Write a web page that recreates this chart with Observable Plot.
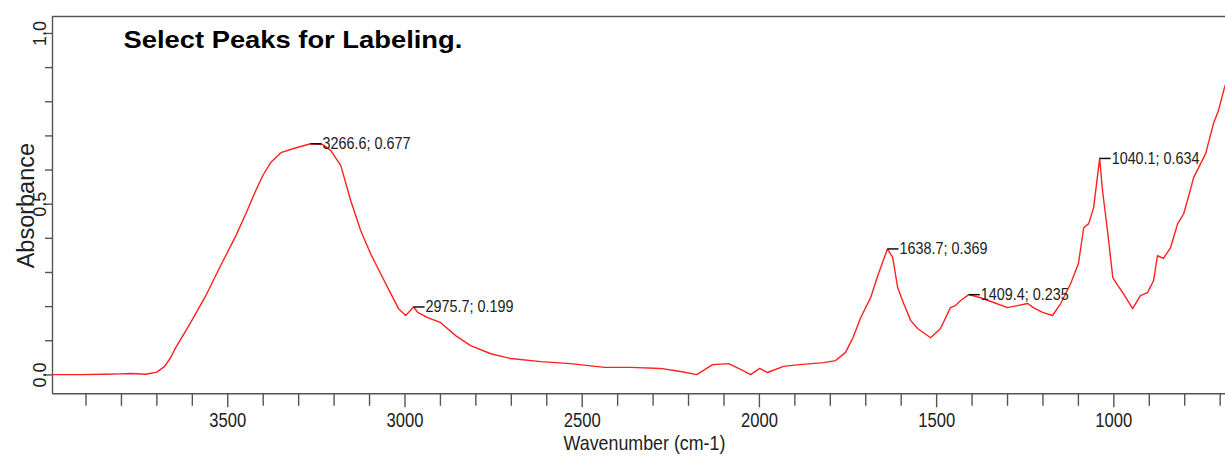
<!DOCTYPE html>
<html>
<head>
<meta charset="utf-8">
<script src="https://cdn.jsdelivr.net/npm/d3@7"></script>
<script src="https://cdn.jsdelivr.net/npm/@observablehq/plot@0.6"></script>
<style>
  html, body { margin: 0; padding: 0; background: #fff; }
  #chart { width: 1225px; height: 460px; overflow: hidden; }
</style>
</head>
<body>
<div id="chart"></div>
<script>
// ---- data ----
const wavenumber = [3994, 3915, 3850, 3802, 3774, 3731, 3700, 3678, 3661, 3647,
  3618, 3590, 3562, 3534, 3506, 3477, 3449, 3421, 3401, 3379,
  3350, 3314, 3266.6, 3232, 3209, 3181, 3153, 3125, 3097, 3069,
  3040, 3018, 2998, 2975.7, 2964, 2936, 2899, 2857, 2815, 2758,
  2702, 2617, 2533, 2437, 2363, 2279, 2222, 2177, 2132, 2087,
  2053, 2025, 1999, 1977, 1932, 1887, 1819, 1785, 1757, 1737,
  1714, 1686, 1664, 1638.7, 1624, 1610, 1593, 1573, 1554, 1517,
  1489, 1461, 1447, 1432, 1409.4, 1376, 1339, 1300, 1272, 1243,
  1227, 1201, 1173, 1150, 1122, 1100, 1085, 1071, 1057, 1040.1,
  1032, 1018, 1003, 989, 973, 947, 925, 905, 888, 877,
  860, 840, 820, 803, 787, 775, 758, 741, 719, 705,
  688, 685];
const absorbance = [0.001, 0.001, 0.002, 0.003, 0.004, 0.002, 0.008, 0.025, 0.051, 0.080,
  0.130, 0.180, 0.232, 0.291, 0.349, 0.408, 0.472, 0.540, 0.584, 0.622,
  0.651, 0.663, 0.677, 0.675, 0.657, 0.613, 0.510, 0.423, 0.355, 0.297,
  0.238, 0.194, 0.174, 0.199, 0.183, 0.168, 0.153, 0.115, 0.086, 0.062,
  0.048, 0.039, 0.033, 0.022, 0.022, 0.019, 0.010, 0.001, 0.030, 0.033,
  0.016, 0.001, 0.019, 0.007, 0.025, 0.030, 0.036, 0.042, 0.066, 0.107,
  0.168, 0.227, 0.297, 0.369, 0.344, 0.256, 0.209, 0.159, 0.136, 0.109,
  0.136, 0.197, 0.203, 0.218, 0.235, 0.226, 0.212, 0.197, 0.203, 0.209,
  0.197, 0.183, 0.174, 0.209, 0.267, 0.326, 0.431, 0.443, 0.490, 0.634,
  0.540, 0.423, 0.285, 0.262, 0.238, 0.194, 0.232, 0.241, 0.276, 0.349,
  0.341, 0.373, 0.443, 0.472, 0.531, 0.578, 0.613, 0.648, 0.736, 0.774,
  0.841, 0.850];

const peakWavenumber = [3266.6, 2975.7, 1638.7, 1409.4, 1040.1];
const peakAbsorbance = [0.677, 0.199, 0.369, 0.235, 0.634];
const peakLabels = ["3266.6; 0.677", "2975.7; 0.199", "1638.7; 0.369", "1409.4; 0.235", "1040.1; 0.634"];

const xMajorTicks = [3500, 3000, 2500, 2000, 1500, 1000];
const xMinorTicks = [3900, 3800, 3700, 3600, 3400, 3300, 3200, 3100, 2900, 2800, 2700, 2600,
  2400, 2300, 2200, 2100, 1900, 1800, 1700, 1600, 1400, 1300, 1200, 1100, 900, 800, 700];
const yMajorTicks = [0.0, 0.5, 1.0];
const yMinorTicks = [0.1, 0.2, 0.3, 0.4, 0.6, 0.7, 0.8, 0.9];

const titleText = "Select Peaks for Labeling.";
const xLabel = "Wavenumber (cm-1)";
const yLabel = "Absorbance";

const xDomain = [3994.5, 685];
const yDomain = [-0.0553, 1.0497];

const spectrum = wavenumber.map((w, i) => ({w, a: absorbance[i]}));
const peaks = peakWavenumber.map((w, i) => ({w, a: peakAbsorbance[i], label: peakLabels[i]}));

const dashSymbol = { draw(ctx) { ctx.moveTo(0, 0); ctx.lineTo(11, 0); } };
const frameColor = "#555";
const textColor = "#222";

const chart = Plot.plot({
  width: 1225,
  height: 460,
  marginLeft: 52,
  marginRight: 0,
  marginTop: 16,
  marginBottom: 66.7,
  style: { fontFamily: "'Liberation Sans', Arial, sans-serif", background: "#fff", overflow: "visible" },
  x: { domain: xDomain, axis: null },
  y: { domain: yDomain, axis: null },
  marks: [
    Plot.ruleY([yDomain[0], yDomain[1]], { stroke: frameColor, strokeWidth: 1.4 }),
    Plot.ruleX([xDomain[0]], { stroke: frameColor, strokeWidth: 1.4 }),
    Plot.axisX(xMajorTicks, { anchor: "bottom", tickSize: 14, stroke: frameColor, strokeWidth: 1.4, fill: "none", label: null }),
    Plot.axisX(xMinorTicks, { anchor: "bottom", tickSize: 12.5, stroke: frameColor, strokeWidth: 1.4, fill: "none", label: null }),
    Plot.axisY(yMajorTicks, { anchor: "left", tickSize: 9, stroke: frameColor, strokeWidth: 1.4, fill: "none", label: null }),
    Plot.axisY(yMinorTicks, { anchor: "left", tickSize: 7, stroke: frameColor, strokeWidth: 1.4, fill: "none", label: null }),
    Plot.text(xMajorTicks, { x: d => d, frameAnchor: "bottom", dy: 33.2, lineAnchor: "bottom", textAnchor: "middle",
      text: d => String(d), fontSize: 21, fill: textColor }),
    Plot.text(yMajorTicks, { y: d => d, frameAnchor: "left", dx: -7, rotate: -90, lineAnchor: "bottom", textAnchor: "middle",
      text: d => d.toFixed(1), fontSize: 18, fill: textColor }),
    Plot.text([xLabel], { frameAnchor: "bottom", dx: 5.5, dy: 56.5, lineAnchor: "bottom", textAnchor: "middle",
      fontSize: 21, fill: textColor }),
    Plot.text([yLabel], { frameAnchor: "left", dx: -19, dy: 0.5, rotate: -90, lineAnchor: "bottom", textAnchor: "middle",
      fontSize: 23.5, fill: textColor }),
    Plot.line(spectrum, { x: "w", y: "a", stroke: "#ff2020", strokeWidth: 1.4, curve: "linear" }),
    Plot.dot(peaks, { x: "w", y: "a", symbol: dashSymbol, stroke: "#111", strokeWidth: 1.5, fill: "none", r: 4 }),
    Plot.text(peaks, { x: "w", y: "a", text: "label", dx: 12, textAnchor: "start", lineAnchor: "middle",
      fontSize: 16, fill: textColor }),
    Plot.text([titleText], { frameAnchor: "top-left", dx: 71, dy: 31, textAnchor: "start", lineAnchor: "bottom",
      fontSize: 24, fontWeight: "bold", fill: "#000" })
  ]
});

document.getElementById("chart").appendChild(chart);

// horizontal squeeze/stretch of texts to match the reference widths
function squeeze(t, sx) {
  const xa = t.getAttribute("x");
  let x = 0;
  if (xa !== null && !/em$/.test(xa)) { x = +xa || 0; t.removeAttribute("x"); }
  const tr = t.getAttribute("transform") || "";
  t.setAttribute("transform", `${tr} translate(${x},0) scale(${sx},1)`);
}
const allTexts = Array.from(chart.querySelectorAll("text"));
function fitGroup(strings, refString, target) {
  const group = allTexts.filter(t => strings.includes(t.textContent));
  const ref = group.find(t => t.textContent === refString);
  if (!ref) return;
  const len = ref.getComputedTextLength();
  if (!len) return;
  group.forEach(t => squeeze(t, target / len));
}
fitGroup(xMajorTicks.map(String), "3500", 37);
fitGroup([xLabel], xLabel, 162);
fitGroup(peakLabels, "3266.6; 0.677", 88);
fitGroup([titleText], titleText, 339);
</script>
</body>
</html>
